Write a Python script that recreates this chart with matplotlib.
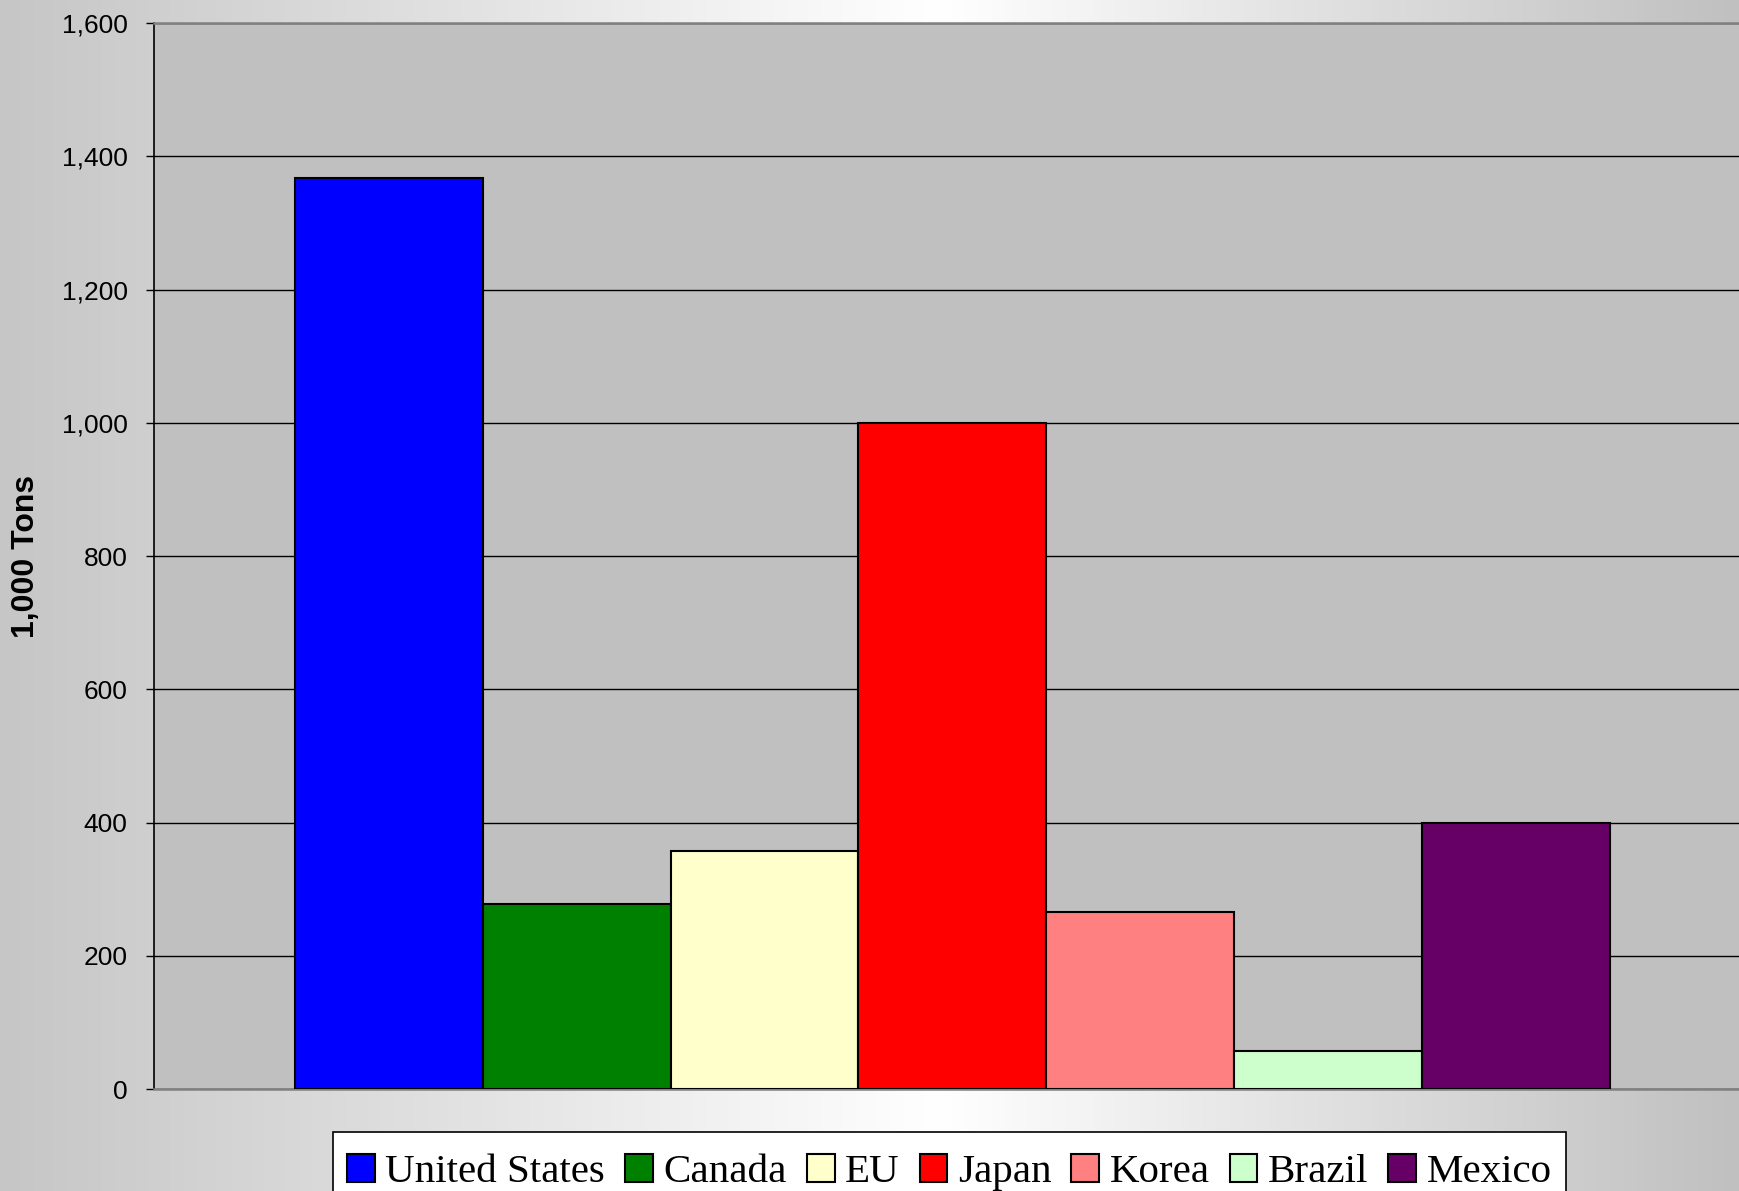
import numpy as np
import matplotlib
matplotlib.use('Agg')
import matplotlib.pyplot as plt
from matplotlib.colors import LinearSegmentedColormap
from matplotlib.ticker import FuncFormatter

# Chart data (1,000 tons)
countries = ['United States', 'Canada', 'EU', 'Japan', 'Korea', 'Brazil', 'Mexico']
values = [1368, 278, 358, 1000, 266, 57, 400]
colors = ['#0000ff', '#008000', '#ffffcc', '#ff0000', '#ff8080', '#ccffcc', '#660066']
y_ticks = [0, 200, 400, 600, 800, 1000, 1200, 1400, 1600]

fig = plt.figure(figsize=(17.39, 11.91), dpi=100)

# gray-white-gray horizontal background
bg = fig.add_axes([0, 0, 1, 1], zorder=-10)
cmap = LinearSegmentedColormap.from_list('bg', [(0, '#c6c6c6'), (0.54, '#ffffff'), (1, '#c0c0c0')])
bg.imshow(np.linspace(0, 1, 512)[None, :], aspect='auto', cmap=cmap, extent=[0, 1, 0, 1])
bg.axis('off')

ax = fig.add_axes([0.0886, 0.0856, 0.918, 0.8951])
ax.set_facecolor('#c0c0c0')

x = np.arange(len(countries))
bars = ax.bar(x, values, width=1.0, color=colors, edgecolor='black', linewidth=1.5,
              label=countries, zorder=3)

ax.set_xlim(-1.25, 7.25)
ax.set_ylim(0, 1600)
ax.set_yticks(y_ticks)
ax.yaxis.set_major_formatter(FuncFormatter(lambda v, p: f'{int(v):,}'))
ax.set_xticks([])
ax.yaxis.grid(True, color='black', linewidth=1.0, zorder=1)
ax.tick_params(axis='y', direction='out', length=6, width=1, pad=13, labelsize=19,
               colors='black')
for lab in ax.get_yticklabels():
    lab.set_fontfamily('Liberation Sans')

ax.spines['left'].set_color('black')
ax.spines['left'].set_linewidth(1.2)
for side in ['top', 'bottom', 'right']:
    ax.spines[side].set_color('#808080')
    ax.spines[side].set_linewidth(1.8)

ax.set_ylabel('1,000 Tons', fontsize=23, fontweight='bold', family='Liberation Sans')
ax.yaxis.set_label_coords(-0.071, 0.5)

leg = fig.legend(handles=bars, labels=countries, loc='upper left', ncol=7,
                 bbox_to_anchor=(333 / 1739, 1 - 1132 / 1191), bbox_transform=fig.transFigure,
                 borderaxespad=0, frameon=True, fancybox=False, framealpha=1,
                 prop={'family': 'Liberation Serif', 'size': 29.5},
                 title=' ', title_fontsize=2, labelspacing=0.08,
                 handlelength=0.68, handleheight=0.68, handletextpad=0.25,
                 columnspacing=0.49, borderpad=0.35)
leg.get_frame().set_edgecolor('black')
leg.get_frame().set_linewidth(1.2)
leg.get_frame().set_facecolor('white')

fig.savefig('out.png', dpi=100)
